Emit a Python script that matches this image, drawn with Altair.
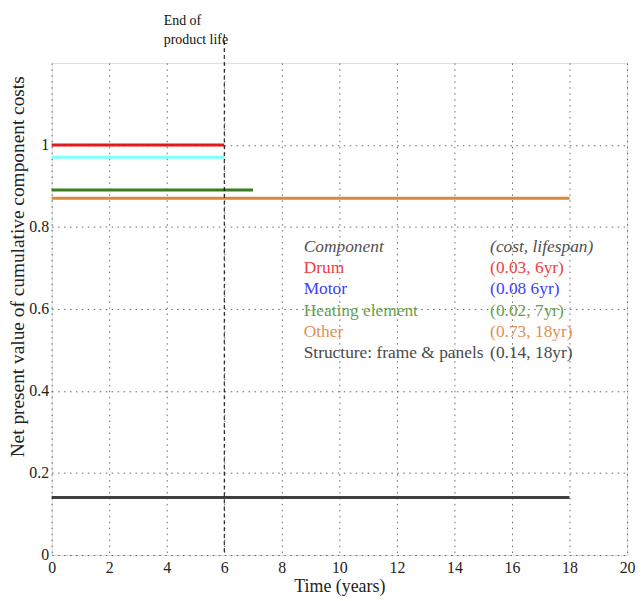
import altair as alt
import pandas as pd

# ---- data ----
components = ["Drum", "Motor", "Heating element", "Other", "Structure: frame & panels"]
costs = ["(0.03, 6yr)", "(0.08 6yr)", "(0.02, 7yr)", "(0.73, 18yr)", "(0.14, 18yr)"]
levels = [1.0, 0.97, 0.89, 0.87, 0.14]          # cumulative NPV level of each line
line_end = [6, 6, 7, 18, 18]                     # years
line_colors = ["#e31a1c", "#80ffff", "#3a7d1e", "#d8893a", "#404040"]
text_colors = ["#ee4040", "#4040ff", "#6a9f4f", "#df9055", "#4a4a4a"]
header = ["Component", "(cost, lifespan)"]
header_color = "#505050"
end_of_life = 6

x_ticks = list(range(0, 21, 2))
y_ticks = [0, 0.2, 0.4, 0.6, 0.8, 1.0]

FONT = "Liberation Serif"
W, H = 580, 496

lines_df = pd.DataFrame({
    "name": components, "x0": [0] * len(components), "x1": line_end,
    "y": levels, "color": line_colors,
})

# legend block anchored in data coordinates (like MATLAB text())
col1_x, col2_x, top_y, step_y = 8.76, 15.24, 0.750, 0.0513
leg_df = pd.DataFrame({
    "label": components,
    "value": costs,
    "color": text_colors,
    "ly": [top_y - (i + 1) * step_y for i in range(len(components))],
    "x1": [col1_x] * len(components),
    "x2": [col2_x] * len(components),
})
head_df = pd.DataFrame({
    "text": header, "x": [col1_x, col2_x], "ly": [top_y, top_y],
})

xscale = alt.Scale(domain=[0, 20], nice=False, zero=False)
yscale = alt.Scale(domain=[0, 1.2], nice=False, zero=False)

xaxis = alt.Axis(values=x_ticks, title="Time (years)", grid=True, ticks=False,
                 domain=False, labelFont=FONT, labelFontSize=16, labelColor="#222",
                 titleFont=FONT, titleFontSize=18, titleFontWeight="normal",
                 titleColor="#222", labelPadding=5, titlePadding=2,
                 gridDash=[1.5, 4.5], gridColor="#555", gridOpacity=0.9,
                 labelFlush=False)
yaxis = alt.Axis(values=y_ticks, title="Net present value of cumulative component costs",
                 format="~g", grid=True, ticks=False, domain=False,
                 labelFont=FONT, labelFontSize=16, labelColor="#222",
                 titleFont=FONT, titleFontSize=19.5, titleFontWeight="normal",
                 titleColor="#222", labelPadding=3,
                 titleX=-34, titleY=205, titleAngle=270, titleAlign="center",
                 titleBaseline="middle",
                 gridDash=[1.5, 4.5], gridColor="#555", gridOpacity=0.9)

base = alt.Chart(lines_df)

segments = base.mark_rule(strokeWidth=3).encode(
    x=alt.X("x0:Q", scale=xscale, axis=xaxis),
    x2="x1:Q",
    y=alt.Y("y:Q", scale=yscale, axis=yaxis),
    color=alt.Color("color:N", scale=None),
)

eol_df = pd.DataFrame({"x": [end_of_life], "label": ["End of\nproduct life"]})
eol_rule = alt.Chart(eol_df).mark_rule(
    color="black", strokeWidth=1, strokeDash=[4, 3]
).encode(
    x=alt.X("x:Q", scale=xscale),
    y=alt.value(-29),
    y2=alt.value(H),
)
eol_text = alt.Chart(eol_df).mark_text(
    align="left", baseline="top", dx=-61, font=FONT, fontSize=14,
    lineBreak="\n", lineHeight=19, color="#111",
).encode(
    x=alt.X("x:Q", scale=xscale),
    y=alt.value(-49),
    text="label:N",
)

leg_base = alt.Chart(leg_df)
leg_col1 = leg_base.mark_text(align="left", baseline="middle", font=FONT, fontSize=17.5).encode(
    x=alt.X("x1:Q", scale=xscale),
    y=alt.Y("ly:Q", scale=yscale),
    text="label:N",
    color=alt.Color("color:N", scale=None),
)
leg_col2 = leg_base.mark_text(align="left", baseline="middle", font=FONT, fontSize=17.5).encode(
    x=alt.X("x2:Q", scale=xscale),
    y=alt.Y("ly:Q", scale=yscale),
    text="value:N",
    color=alt.Color("color:N", scale=None),
)
leg_head = alt.Chart(head_df).mark_text(
    align="left", baseline="middle", font=FONT, fontSize=17.5,
    fontStyle="italic", color=header_color,
).encode(
    x=alt.X("x:Q", scale=xscale),
    y=alt.Y("ly:Q", scale=yscale),
    text="text:N",
)

chart = alt.layer(segments, eol_rule, eol_text, leg_head, leg_col1, leg_col2).properties(
    width=W, height=H,
    autosize=alt.AutoSizeParams(type="none"),
    padding={"left": 44, "top": 53, "right": 8, "bottom": 41},
).configure_view(
    stroke="#333", strokeWidth=1,
).configure(background="white")

chart.save("out.html", embed_options={"renderer": "svg", "actions": False})
